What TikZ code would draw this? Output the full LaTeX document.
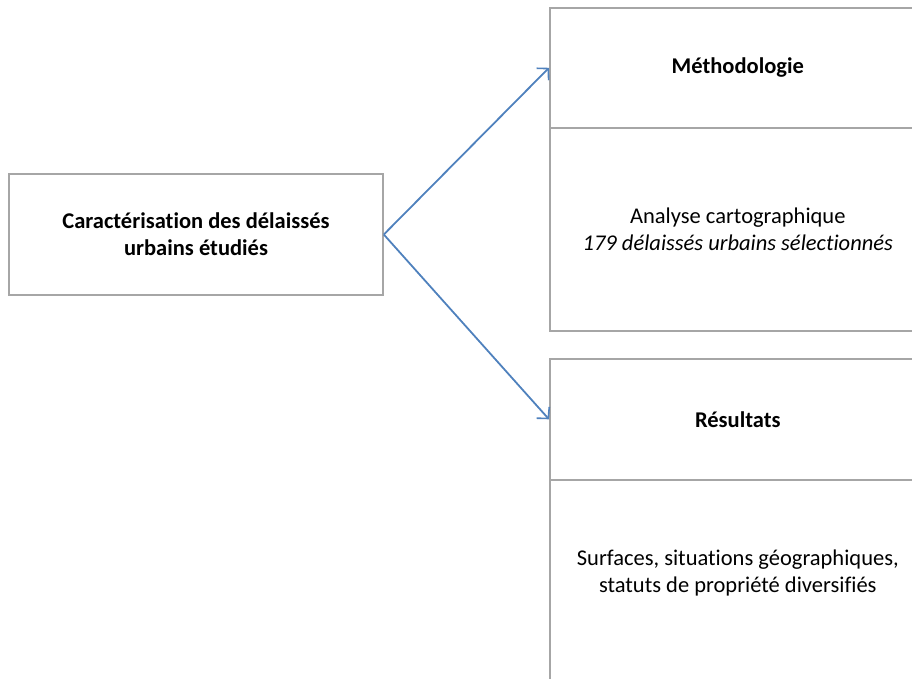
\documentclass[tikz,border=0pt]{standalone}
\usepackage{fontspec}
\setmainfont{Carlito}[Ligatures=NoCommon]
\usetikzlibrary{arrows.meta}

\definecolor{boxgray}{HTML}{A6A6A6}
\definecolor{linkblue}{HTML}{4F81BD}

\tikzset{
  box/.style={draw=boxgray, line width=1.6pt, rectangle, align=center, inner sep=0pt,
    font=\fontsize{22.5}{27}\selectfont},
  link/.style={->, >={Straight Barb[length=8pt, width=17pt, line width=1.6pt]}, draw=linkblue, line width=1.8pt}
}

\begin{document}
\begin{tikzpicture}[x=1pt, y=-1pt]
		\useasboundingbox (0, 0) rectangle (912, 679);
		\clip (0, 0) rectangle (912, 679);

		\node[box, minimum width=374pt, minimum height=121pt] (cara) at (196, 234.5)
			{\bfseries Caractérisation des délaissés\\ \bfseries urbains étudiés};

		\node[box, anchor=north west, minimum width=376pt, minimum height=120pt] (metho) at (549, 7)
			{\bfseries Méthodologie};
		\node[box, anchor=north west, minimum width=376pt, minimum height=203pt] (analyse) at (549, 127)
			{Analyse cartographique\\ \itshape 179 délaissés urbains sélectionnés};

		\node[box, anchor=north west, minimum width=376pt, minimum height=121pt] (res) at (549, 358)
			{\bfseries Résultats};
		\node[box, anchor=north west, minimum width=376pt, minimum height=203pt] (surf) at (549, 479)
			{Surfaces, situations géographiques,\\ statuts de propriété diversifiés\\[-7pt]\mbox{}};

		\draw[link] (cara.east) -- (metho.west);
		\draw[link] (cara.east) -- (res.west);
\end{tikzpicture}
\end{document}
